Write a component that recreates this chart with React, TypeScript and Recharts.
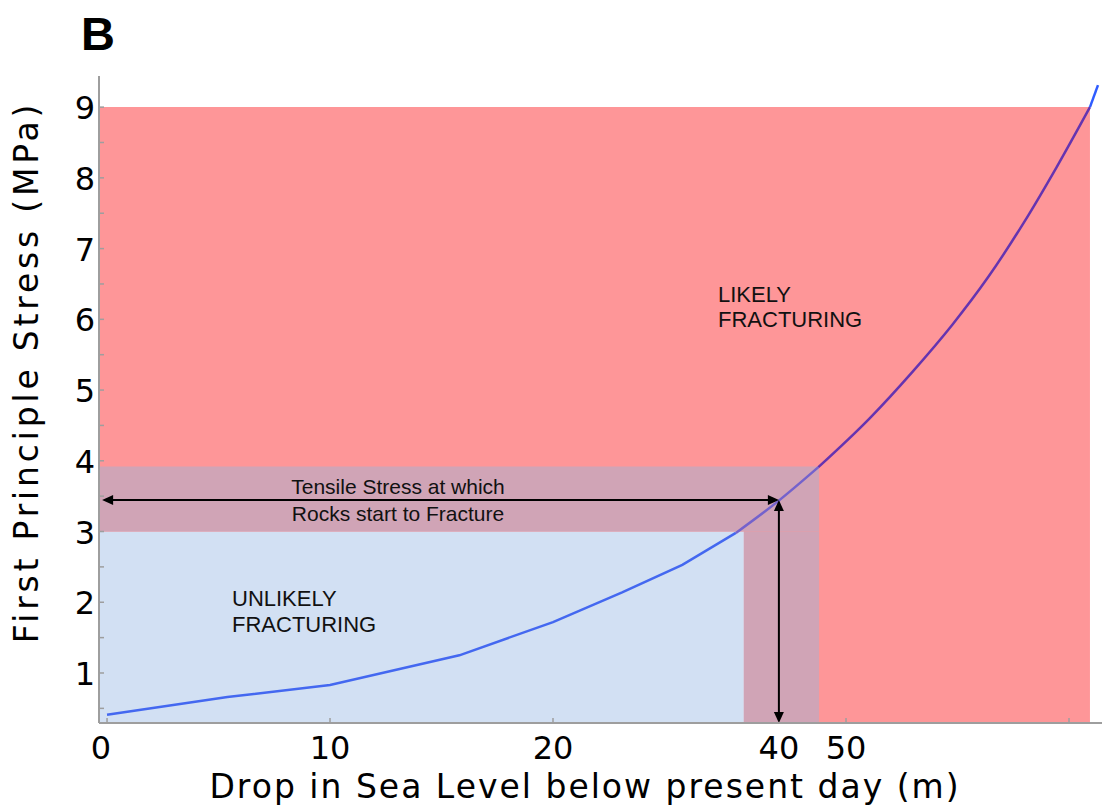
import React from 'react';
import {
  ComposedChart,
  Line,
  XAxis,
  YAxis,
  ReferenceArea,
  ReferenceLine,
} from 'recharts';

// axis ticks (positions in axis units, the figure's labels are not evenly spaced)
const xTickValues = [0, 10, 20, 30.13, 33.14, 43.14];
const xTickLabels = ['0', '10', '20', '40', '50', ''];
const xTickMarks = [true, true, true, false, true, true];

const yTickValues = [0.5, 1, 1.5, 2, 2.5, 3, 3.5, 4, 4.5, 5, 5.5, 6, 6.5, 7, 7.5, 8, 8.5, 9];
const yTickLabels = ['', '1', '', '2', '', '3', '', '4', '', '5', '', '6', '', '7', '', '8', '', '9'];

// stress curve
const curveX = [0, 5.4, 10, 15.8, 20, 23.1, 25.8, 28.2, 30.1, 31.9, 34.2, 36.1, 37.9, 39.5, 41.1, 42.6, 44.08, 44.44];
const curveY = [0.41, 0.66, 0.83, 1.25, 1.72, 2.14, 2.53, 2.98, 3.43, 3.91, 4.6, 5.25, 5.92, 6.59, 7.36, 8.16, 9.0, 9.31];

// zones
const X_MIN = -0.36;
const X_MAX = 44.62;
const Y_MIN = 0.293;
const Y_MAX = 9.44;
const likelyZone = [X_MIN, 44.08, Y_MIN, 9.0];
const tensileBand = [X_MIN, 31.93, 3.0, 3.92];
const tensileColumn = [28.56, 31.93, Y_MIN, 3.0];
const unlikelyZone = [X_MIN, 28.56, Y_MIN, 3.0];

// tensile stress marker
const arrowStart = -0.22;
const arrowX = 30.13;
const arrowY = 3.445;

const points = curveX.map((x, i) => ({ x, y: curveY[i] }));
const segBlue = points.filter((p) => p.x <= 28.2);
const segBand = points.filter((p) => p.x >= 28.2 && p.x <= 31.9);
const segRed = points.filter((p) => p.x >= 31.9 && p.x <= 44.08);
const segTop = points.filter((p) => p.x >= 44.08);

const AXIS = '#9e9e9e';
const FONT = '"DejaVu Sans", Verdana, sans-serif';
const ARIAL = '"Liberation Sans", Arial, sans-serif';

const BottomTick = (props: any) => {
  const { x, y, payload, index } = props;
  const i = xTickValues.indexOf(payload.value);
  const dx = i === 0 ? -6 : 0;
  return (
    <g key={`bt-${index}`}>
      {xTickMarks[i] && <line x1={x} x2={x} y1={y} y2={y - 5} stroke={AXIS} strokeWidth={1.5} />}
      <text x={x + dx} y={y + 36} textAnchor="middle" fontSize={32} fontFamily={FONT} fill="#000">
        {xTickLabels[i]}
      </text>
    </g>
  );
};

const TopTick = (props: any) => {
  const { x, y, payload } = props;
  const i = xTickValues.indexOf(payload.value);
  if (!xTickMarks[i]) return <g />;
  return <line x1={x} x2={x} y1={y} y2={y + 5} stroke={AXIS} strokeWidth={1.5} />;
};

const LeftTick = (props: any) => {
  const { x, y, payload } = props;
  const i = yTickValues.indexOf(payload.value);
  return (
    <g>
      <line x1={x} x2={x + 5} y1={y} y2={y} stroke={AXIS} strokeWidth={1.5} />
      <text x={x - 4} y={y + 12} textAnchor="end" fontSize={32} fontFamily={FONT} fill="#000">
        {yTickLabels[i]}
      </text>
    </g>
  );
};

const RightTick = (props: any) => {
  const { x, y } = props;
  return <line x1={x} x2={x - 5} y1={y} y2={y} stroke={AXIS} strokeWidth={1.5} />;
};

const DoubleArrow = (props: any) => {
  const { x1, y1, x2, y2 } = props;
  if ([x1, y1, x2, y2].some((v) => typeof v !== 'number' || isNaN(v))) return <g />;
  const len = 11;
  const half = 5;
  const ang = Math.atan2(y2 - y1, x2 - x1);
  const c = Math.cos(ang);
  const s = Math.sin(ang);
  const head = (tx: number, ty: number, dir: number) => {
    const bx = tx - dir * len * c;
    const by = ty - dir * len * s;
    return `${tx},${ty} ${bx - half * s},${by + half * c} ${bx + half * s},${by - half * c}`;
  };
  return (
    <g>
      <line
        x1={x1 + len * c * 0.8}
        y1={y1 + len * s * 0.8}
        x2={x2 - len * c * 0.8}
        y2={y2 - len * s * 0.8}
        stroke="#000"
        strokeWidth={2}
      />
      <polygon points={head(x2, y2, 1)} fill="#000" />
      <polygon points={head(x1, y1, -1)} fill="#000" />
    </g>
  );
};

export default function App() {
  return (
    <div style={{ position: 'absolute', left: 0, top: 0, width: 1104, height: 807, background: '#fff' }}>
      <ComposedChart
        width={1104}
        height={807}
        margin={{ top: 76, right: 2, left: 0, bottom: 0 }}
      >
        <XAxis
          type="number"
          dataKey="x"
          domain={[X_MIN, X_MAX]}
          allowDataOverflow
          ticks={xTickValues}
          interval={0}
          height={84}
          tickSize={0}
          tickMargin={0}
          tickLine={false}
          tick={BottomTick}
          axisLine={{ stroke: AXIS, strokeWidth: 2 }}
        />
        <XAxis
          xAxisId="top"
          orientation="top"
          type="number"
          dataKey="x"
          domain={[X_MIN, X_MAX]}
          allowDataOverflow
          ticks={xTickValues}
          interval={0}
          height={0}
          tickSize={0}
          tickMargin={0}
          tickLine={false}
          tick={TopTick}
          axisLine={{ stroke: AXIS, strokeWidth: 2 }}
        />
        <YAxis
          type="number"
          domain={[Y_MIN, Y_MAX]}
          allowDataOverflow
          ticks={yTickValues}
          interval={0}
          width={99}
          tickSize={0}
          tickMargin={0}
          tickLine={false}
          tick={LeftTick}
          axisLine={{ stroke: AXIS, strokeWidth: 2 }}
        />
        <YAxis
          yAxisId="right"
          orientation="right"
          type="number"
          domain={[Y_MIN, Y_MAX]}
          allowDataOverflow
          ticks={yTickValues}
          interval={0}
          width={0}
          tickSize={0}
          tickMargin={0}
          tickLine={false}
          tick={RightTick}
          axisLine={{ stroke: AXIS, strokeWidth: 2 }}
        />

        <ReferenceArea x1={likelyZone[0]} x2={likelyZone[1]} y1={likelyZone[2]} y2={likelyZone[3]} fill="#fe9698" fillOpacity={1} stroke="none" ifOverflow="hidden" />
        <ReferenceArea x1={unlikelyZone[0]} x2={unlikelyZone[1]} y1={unlikelyZone[2]} y2={unlikelyZone[3]} fill="#d2e0f3" fillOpacity={1} stroke="none" ifOverflow="hidden" />
        <ReferenceArea x1={tensileBand[0]} x2={tensileBand[1]} y1={tensileBand[2]} y2={tensileBand[3]} fill="#d0a4b6" fillOpacity={1} stroke="none" ifOverflow="hidden" />
        <ReferenceArea x1={tensileColumn[0]} x2={tensileColumn[1]} y1={tensileColumn[2]} y2={tensileColumn[3]} fill="#d0a4b6" fillOpacity={1} stroke="none" ifOverflow="hidden" />

        <Line data={segBlue} dataKey="y" type="linear" stroke="#4468f0" strokeWidth={2.5} dot={false} isAnimationActive={false} />
        <Line data={segBand} dataKey="y" type="monotone" stroke="#7462cc" strokeWidth={2.5} dot={false} isAnimationActive={false} />
        <Line data={segRed} dataKey="y" type="monotone" stroke="#6534b0" strokeWidth={2.5} dot={false} isAnimationActive={false} />
        <Line data={segTop} dataKey="y" type="linear" stroke="#2f5cff" strokeWidth={2.5} dot={false} isAnimationActive={false} />

        <ReferenceLine
          segment={[{ x: arrowStart, y: arrowY }, { x: arrowX, y: arrowY }]}
          shape={DoubleArrow}
          ifOverflow="visible"
        />
        <ReferenceLine
          segment={[{ x: arrowX, y: arrowY }, { x: arrowX, y: Y_MIN }]}
          shape={DoubleArrow}
          ifOverflow="visible"
        />
      </ComposedChart>

      <svg
        width={1104}
        height={807}
        style={{ position: 'absolute', left: 0, top: 0, pointerEvents: 'none' }}
      >
        <text x={81} y={50} fontSize={47} fontWeight="bold" fontFamily={ARIAL} fill="#000">B</text>
        <text transform="translate(38,372) rotate(-90)" textAnchor="middle" fontSize={33} letterSpacing={3.8} fontFamily={FONT} fill="#000">
          First Principle Stress (MPa)
        </text>
        <text x={585} y={798} textAnchor="middle" fontSize={33} letterSpacing={2} fontFamily={FONT} fill="#000">
          Drop in Sea Level below present day (m)
        </text>
        <text x={718} y={302} fontSize={22} fontFamily={ARIAL} fill="#111">LIKELY</text>
        <text x={718} y={327} fontSize={22} fontFamily={ARIAL} fill="#111">FRACTURING</text>
        <text x={232} y={606} fontSize={22} fontFamily={ARIAL} fill="#111">UNLIKELY</text>
        <text x={232} y={632} fontSize={22} fontFamily={ARIAL} fill="#111">FRACTURING</text>
        <text x={398} y={494} textAnchor="middle" fontSize={21} fontFamily={ARIAL} fill="#111">Tensile Stress at which</text>
        <text x={398} y={521} textAnchor="middle" fontSize={21} fontFamily={ARIAL} fill="#111">Rocks start to Fracture</text>
      </svg>
    </div>
  );
}
